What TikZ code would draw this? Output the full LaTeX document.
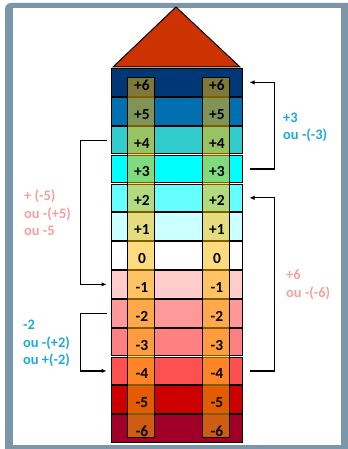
\documentclass[tikz,border=0pt]{standalone}
\usepackage{fontspec}
\setmainfont{Carlito}
\usetikzlibrary{arrows.meta, positioning, calc}
\definecolor{frameblue}{RGB}{122,150,168}
\definecolor{roofred}{RGB}{204,51,0}
\definecolor{labcyan}{RGB}{30,170,215}
\definecolor{labpink}{RGB}{242,160,160}
\definecolor{colorange}{RGB}{255,185,0}
\definecolor{rowa}{RGB}{0,56,118}
\definecolor{rowb}{RGB}{0,112,176}
\definecolor{rowc}{RGB}{51,204,204}
\definecolor{rowd}{RGB}{0,255,255}
\definecolor{rowe}{RGB}{102,255,255}
\definecolor{rowf}{RGB}{204,255,255}
\definecolor{rowh}{RGB}{255,204,204}
\definecolor{rowi}{RGB}{255,153,153}
\definecolor{rowj}{RGB}{255,128,128}
\definecolor{rowk}{RGB}{255,80,80}
\definecolor{rowl}{RGB}{204,0,0}
\definecolor{rowm}{RGB}{160,0,40}

\begin{document}
\begin{tikzpicture}[
  x=1bp, y=-1bp,
  rowbox/.style={draw=black, line width=1bp, minimum width=131bp, minimum height=27.6bp, inner sep=0pt},
  colbox/.style={draw=black, line width=1bp, fill=colorange, fill opacity=0.5},
  num/.style={font=\fontsize{15.5}{17}\selectfont\bfseries, inner sep=0pt, xshift=1.5bp, yshift=-3bp},
  lab/.style={font=\fontsize{14.5}{17.5}\selectfont\bfseries, align=left, anchor=west, inner sep=0pt},
  arr/.style={line width=1.2bp, -{Latex[length=5bp,width=4.5bp]}}
]
  \useasboundingbox (0,0) rectangle (347,449);
  % frame
  \fill[frameblue, rounded corners=6bp] (5,3) rectangle (356,456);
  \fill[white] (13,8) rectangle (341,445);

  % roof
  \filldraw[fill=roofred, draw=black, line width=1bp] (113,67) -- (176,7) -- (240,67) -- cycle;

  % floors
  \foreach \v/\c [count=\i from 0] in {+6/rowa, +5/rowb, +4/rowc, +3/rowd, +2/rowe, +1/rowf,
      0/white, -1/rowh, -2/rowi, -3/rowj, -4/rowk, -5/rowl, -6/rowm}
    \node[rowbox, fill=\c] (r\i) at (176.5, {68+28.85*(\i+0.5)}) {};

  % columns
  \coordinate (colL) at (140.5,0);
  \coordinate (colR) at (215.5,0);
  \draw[colbox] (127,78) rectangle (154,437);
  \draw[colbox] (202,78) rectangle (229,437);

  \foreach \v [count=\i from 0] in {+6, +5, +4, +3, +2, +1, 0, -1, -2, -3, -4, -5, -6} {
    \node[num] at (r\i -| colL) {\v};
    \node[num] at (r\i -| colR) {\v};
  }

  % arrows
  \draw[arr] ([xshift=7bp]r3.east) -- ++(25,0) |- ([xshift=7bp]r0.east);
  \draw[arr] ([xshift=-4bp]r2.west) -- ++(-26,0) |- ([xshift=-4bp]r7.west);
  \draw[arr] ([xshift=7bp]r10.east) -- ++(25,0) |- ([xshift=7bp]r4.east);
  \draw[arr] ([xshift=-4bp]r8.west) -- ++(-26,0) |- ([xshift=-4bp]r10.west);

  % labels
  \node[lab, text=labcyan] (labUp) at (283,127.5) {+3\\ou -(-3)};
  \node[lab, text=labpink] (labDown) at (24,213) {+ (-5)\\ou -(+5)\\ou -5};
  \node[lab, text=labpink] (labSix) at (286,284.5) {+6\\ou -(-6)};
  \node[lab, text=labcyan] (labTwo) at (23,343.5) {-2\\ou -(+2)\\ou +(-2)};
\end{tikzpicture}
\end{document}
